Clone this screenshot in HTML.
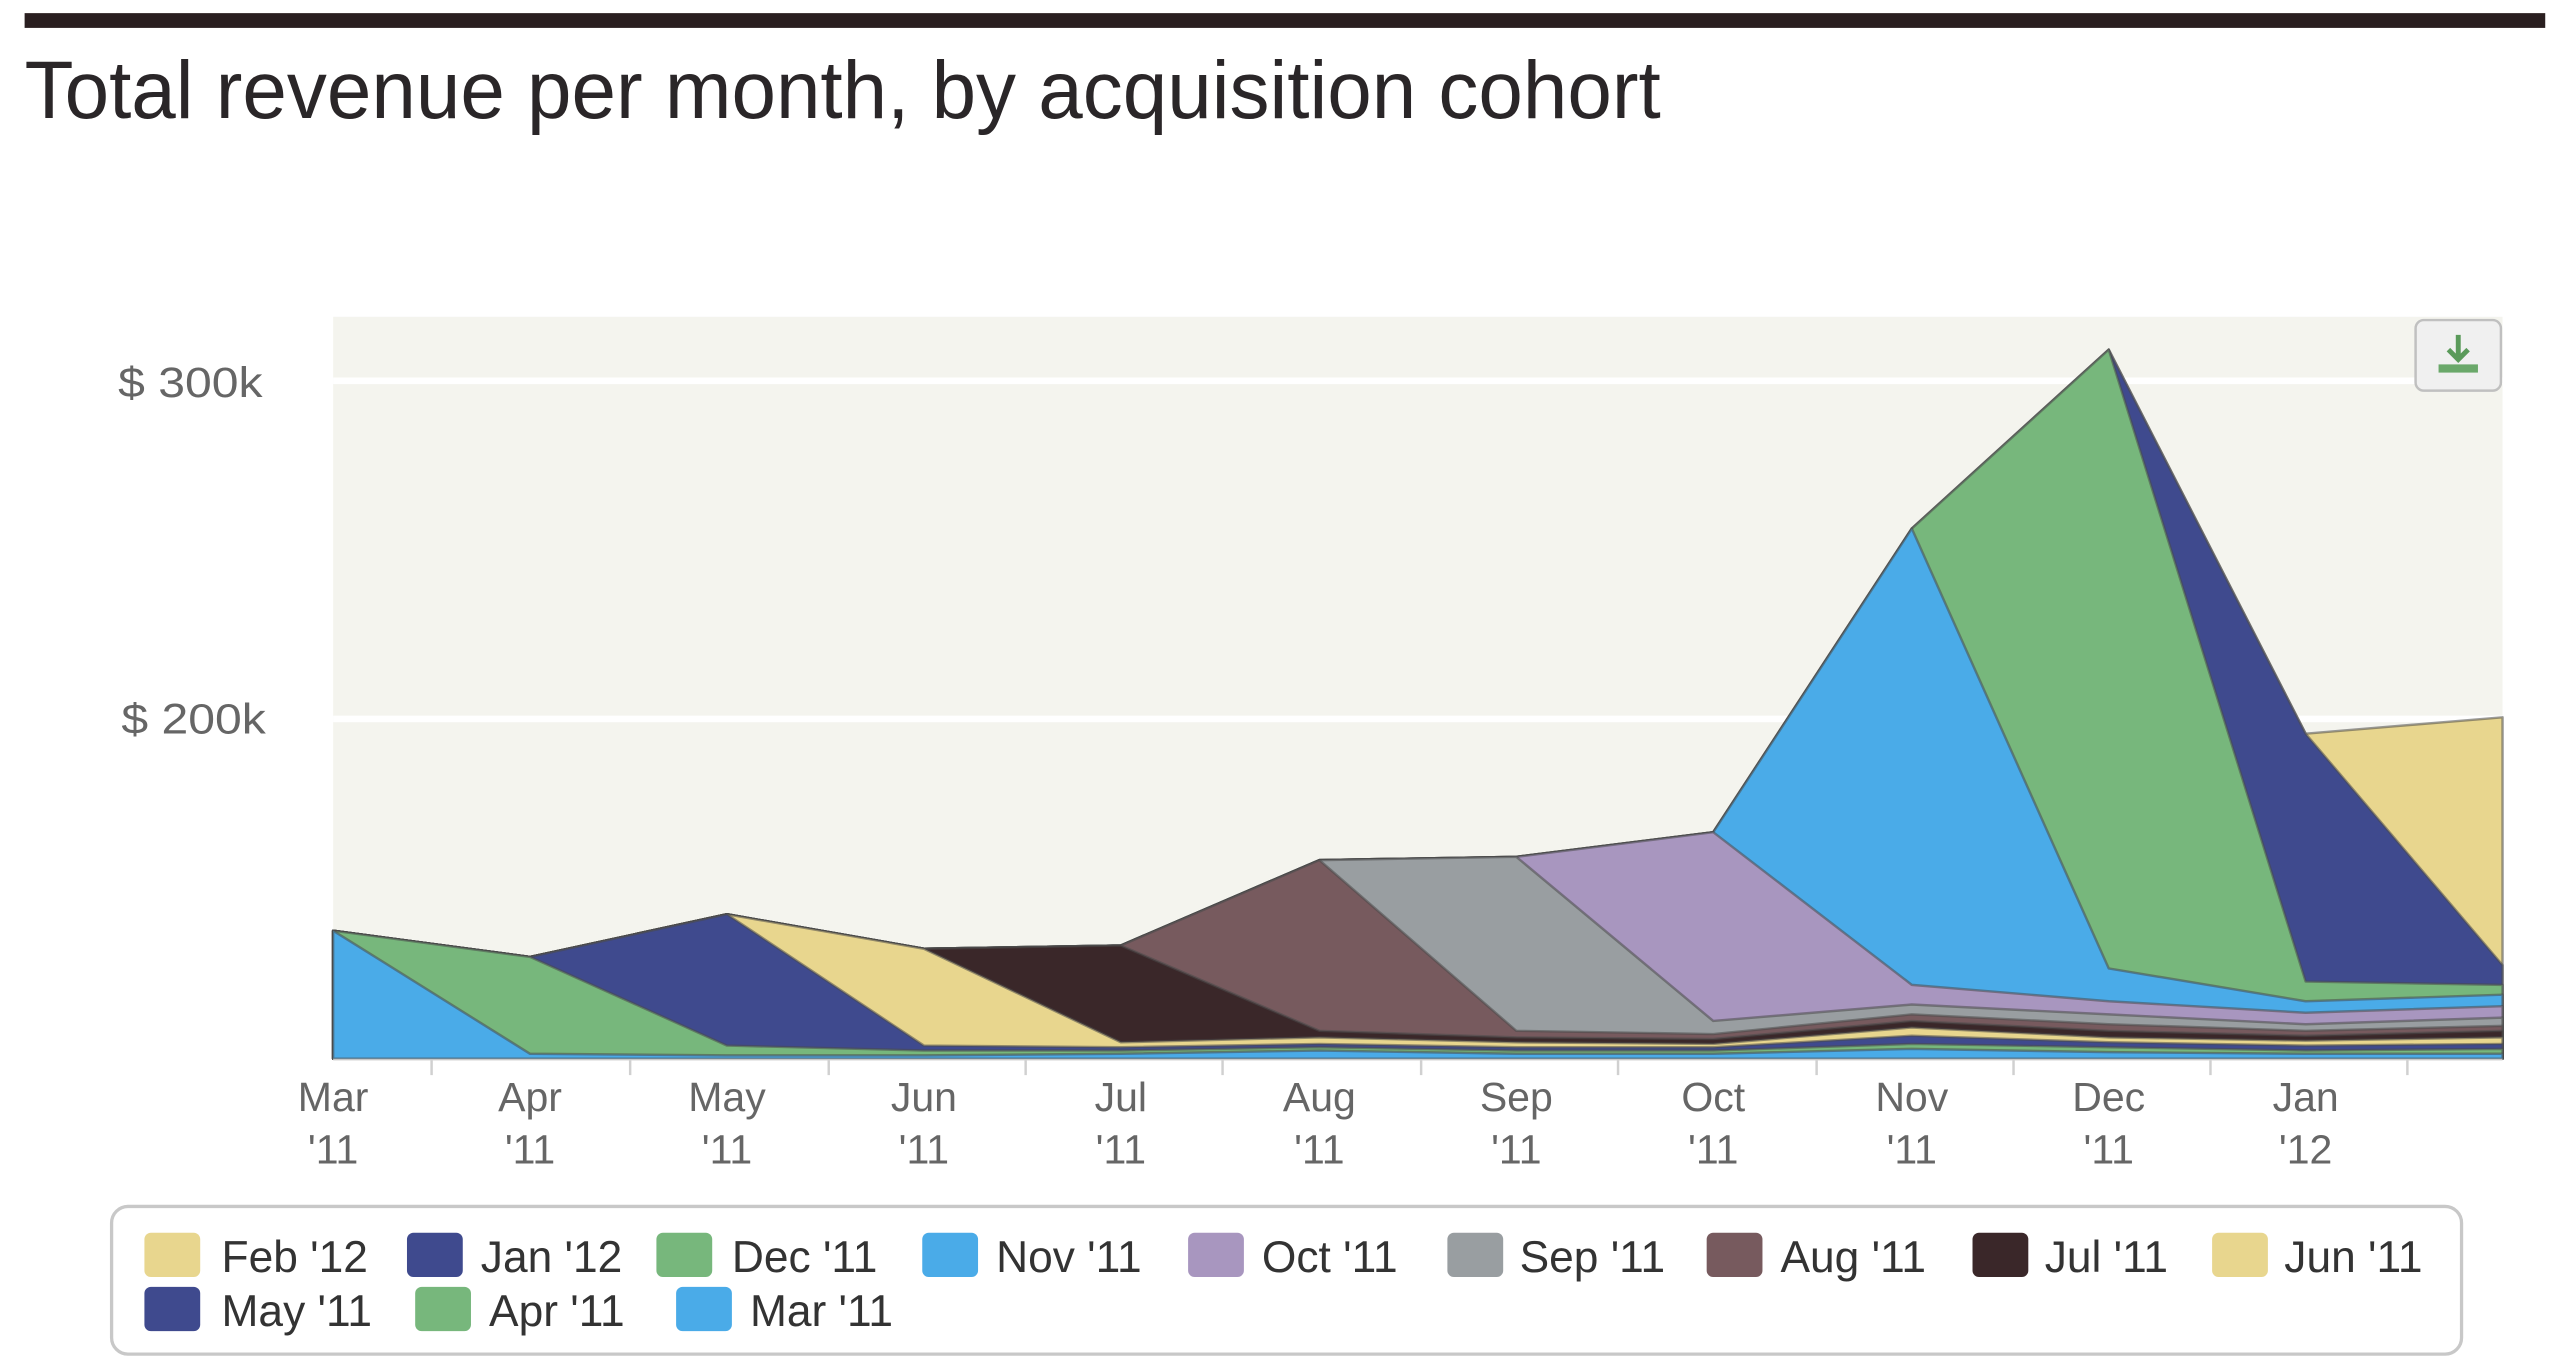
<!DOCTYPE html>
<html><head><meta charset="utf-8"><style>
html,body{margin:0;padding:0;background:#fff;}
svg{display:block;}
text{font-family:"Liberation Sans",sans-serif;}
</style></head><body>
<svg width="2560" height="1364" viewBox="0 0 1560 831" preserveAspectRatio="none" xmlns="http://www.w3.org/2000/svg">
<rect x="15" y="8" width="1536" height="9" fill="#2a1f20"/>
<text x="15" y="72" font-size="50" fill="#2a2628" textLength="997" lengthAdjust="spacingAndGlyphs">Total revenue per month, by acquisition cohort</text>
<rect x="203" y="193" width="1322" height="452" fill="#f4f4ee"/>
<rect x="203" y="230" width="1322" height="4" fill="#fff"/>
<rect x="203" y="436" width="1322" height="4" fill="#fff"/>
<text x="160" y="242" font-size="26" fill="#666" text-anchor="end" textLength="88" lengthAdjust="spacingAndGlyphs">$ 300k</text>
<text x="162" y="447" font-size="26" fill="#666" text-anchor="end" textLength="88" lengthAdjust="spacingAndGlyphs">$ 200k</text>
<g stroke="#4a4a4a" stroke-opacity="0.55" stroke-width="1.5" stroke-linejoin="round">
<!-- Feb'12 (total) -->
<polygon fill="#e8d68e" points="203,645 203,567 323,583 443,557 563,578 683,576 804,524 924,522 1044,507 1165,322 1285,213 1405,447 1525,437 1525,645"/>
<!-- Jan'12 -->
<polygon fill="#3f4a8e" points="203,645 203,567 323,583 443,557 563,578 683,576 804,524 924,522 1044,507 1165,322 1285,213 1405,447 1525,588 1525,645"/>
<!-- Dec'11 -->
<polygon fill="#77b77c" points="203,645 203,567 323,583 443,557 563,578 683,576 804,524 924,522 1044,507 1165,322 1285,213 1405,598 1525,600 1525,645"/>
<!-- Nov'11 -->
<polygon fill="#4aabe8" points="203,645 203,567 323,583 443,557 563,578 683,576 804,524 924,522 1044,507 1165,322 1285,590 1405,610 1525,606 1525,645"/>
<!-- Oct'11 -->
<polygon fill="#a896bf" points="203,645 203,567 323,583 443,557 563,578 683,576 804,524 924,522 1044,507 1165,600 1285,610 1405,617 1525,613 1525,645"/>
<!-- Sep'11 -->
<polygon fill="#999ea1" points="203,645 203,567 323,583 443,557 563,578 683,576 804,524 924,522 1044,622 1165,612 1285,618 1405,624 1525,620 1525,645"/>
<!-- Aug'11 -->
<polygon fill="#775a5e" points="203,645 203,567 323,583 443,557 563,578 683,576 804,524 924,628 1044,630 1165,618 1285,624 1405,628 1525,625 1525,645"/>
<!-- Jul'11 -->
<polygon fill="#3a2729" points="203,645 203,567 323,583 443,557 563,578 683,576 804,628 924,632 1044,633 1165,622 1285,628 1405,631 1525,628 1525,645"/>
<!-- Jun'11 -->
<polygon fill="#e8d68e" points="203,645 203,567 323,583 443,557 563,578 683,635 804,632 924,635 1044,636 1165,626 1285,632 1405,634 1525,632 1525,645"/>
<!-- May'11 -->
<polygon fill="#3f4a8e" points="203,645 203,567 323,583 443,557 563,637 683,638 804,636 924,638 1044,638 1165,631 1285,635 1405,637 1525,636 1525,645"/>
<!-- Apr'11 -->
<polygon fill="#77b77c" points="203,645 203,567 323,583 443,637 563,640 683,640 804,638 924,640 1044,640 1165,636 1285,638 1405,640 1525,639 1525,645"/>
<!-- Mar'11 -->
<polygon fill="#4aabe8" points="203,645 203,567 323,642 443,643 563,643 683,642 804,640 924,642 1044,642 1165,639 1285,641 1405,642 1525,642 1525,645"/>
</g>
<line x1="203" y1="645.5" x2="1525" y2="645.5" stroke="#c8c8c8" stroke-width="1"/>
<g stroke="#d0d0d0" stroke-width="1.5">
<line x1="263" y1="646" x2="263" y2="655"/><line x1="384" y1="646" x2="384" y2="655"/><line x1="505" y1="646" x2="505" y2="655"/><line x1="625" y1="646" x2="625" y2="655"/><line x1="745" y1="646" x2="745" y2="655"/><line x1="866" y1="646" x2="866" y2="655"/><line x1="986" y1="646" x2="986" y2="655"/><line x1="1107" y1="646" x2="1107" y2="655"/><line x1="1227" y1="646" x2="1227" y2="655"/><line x1="1347" y1="646" x2="1347" y2="655"/><line x1="1467" y1="646" x2="1467" y2="655"/>
</g>
<g font-size="25" fill="#666" text-anchor="middle">
<text x="203" y="677">Mar</text><text x="203" y="709">'11</text>
<text x="323" y="677">Apr</text><text x="323" y="709">'11</text>
<text x="443" y="677">May</text><text x="443" y="709">'11</text>
<text x="563" y="677">Jun</text><text x="563" y="709">'11</text>
<text x="683" y="677">Jul</text><text x="683" y="709">'11</text>
<text x="804" y="677">Aug</text><text x="804" y="709">'11</text>
<text x="924" y="677">Sep</text><text x="924" y="709">'11</text>
<text x="1044" y="677">Oct</text><text x="1044" y="709">'11</text>
<text x="1165" y="677">Nov</text><text x="1165" y="709">'11</text>
<text x="1285" y="677">Dec</text><text x="1285" y="709">'11</text>
<text x="1405" y="677">Jan</text><text x="1405" y="709">'12</text>
</g>
<rect x="1472" y="195" width="52" height="43" rx="5" fill="#f0f0f0" stroke="#c0c0c0" stroke-width="1.5"/>
<path d="M1498,204 v14 M1492,213 l6,6 l6,-6" stroke="#5a9a5a" stroke-width="3" fill="none"/>
<rect x="1486" y="222" width="24" height="5" fill="#6aa86a"/>
<rect x="68" y="735" width="1432" height="90" rx="10" fill="#fff" stroke="#c8c8c8" stroke-width="2"/>
<g font-size="27" fill="#333">
<rect x="88" y="751" width="34" height="27" rx="4" fill="#e8d68e"/><text x="135" y="775">Feb '12</text>
<rect x="248" y="751" width="34" height="27" rx="4" fill="#3f4a8e"/><text x="293" y="775">Jan '12</text>
<rect x="400" y="751" width="34" height="27" rx="4" fill="#77b77c"/><text x="446" y="775">Dec '11</text>
<rect x="562" y="751" width="34" height="27" rx="4" fill="#4aabe8"/><text x="607" y="775">Nov '11</text>
<rect x="724" y="751" width="34" height="27" rx="4" fill="#a896bf"/><text x="769" y="775">Oct '11</text>
<rect x="882" y="751" width="34" height="27" rx="4" fill="#999ea1"/><text x="926" y="775">Sep '11</text>
<rect x="1040" y="751" width="34" height="27" rx="4" fill="#775a5e"/><text x="1085" y="775">Aug '11</text>
<rect x="1202" y="751" width="34" height="27" rx="4" fill="#3a2729"/><text x="1246" y="775">Jul '11</text>
<rect x="1348" y="751" width="34" height="27" rx="4" fill="#e8d68e"/><text x="1392" y="775">Jun '11</text>
<rect x="88" y="784" width="34" height="27" rx="4" fill="#3f4a8e"/><text x="135" y="808">May '11</text>
<rect x="253" y="784" width="34" height="27" rx="4" fill="#77b77c"/><text x="298" y="808">Apr '11</text>
<rect x="412" y="784" width="34" height="27" rx="4" fill="#4aabe8"/><text x="457" y="808">Mar '11</text>
</g>
</svg>
</body></html>
